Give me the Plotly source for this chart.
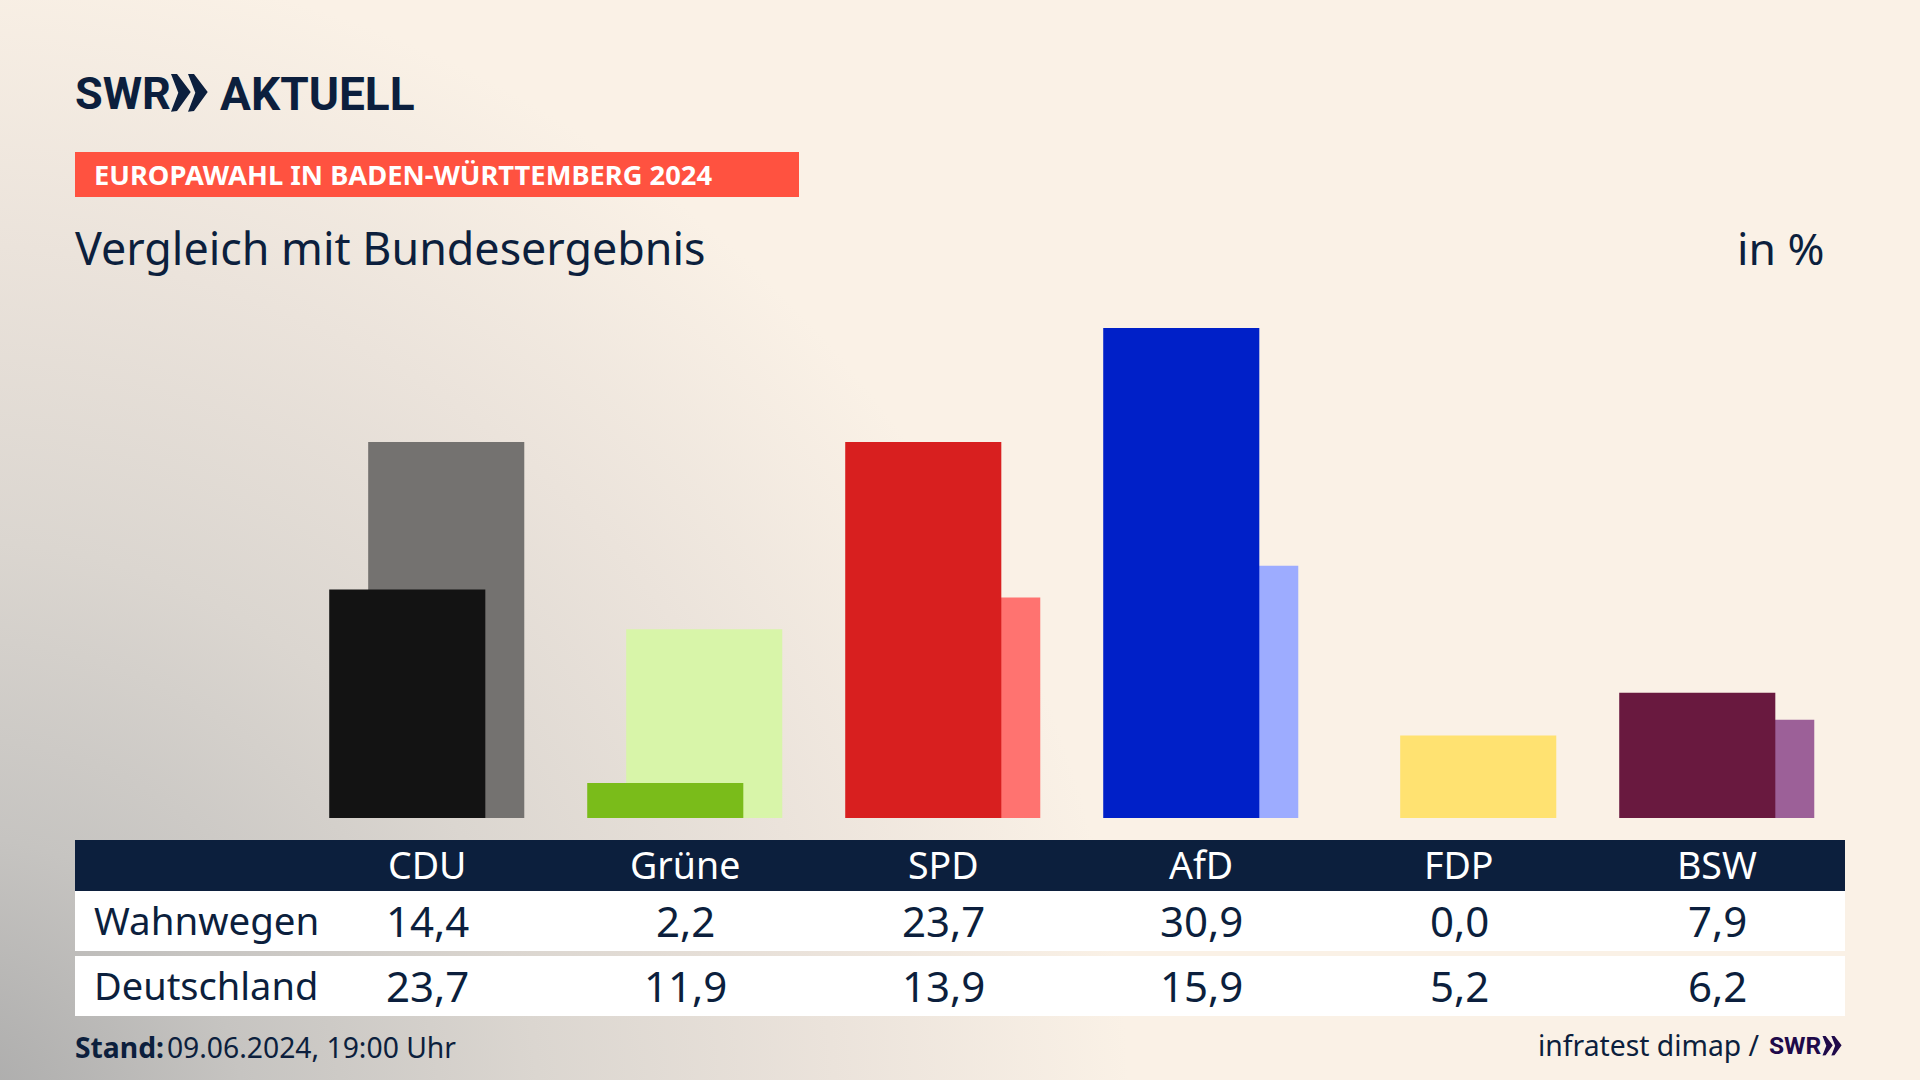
"""SWR Aktuell: Europawahl comparison, Wahnwegen vs Germany, as overlapping bars plus table."""
import base64

import plotly.graph_objects as go

W, H = 1920, 1080
NAVY = "#0c1f3d"
FONT = "Noto Sans"
LOGO_FONT = "Roboto"
LOGO_DARK = "#1f0a4a"

parties = ["CDU", "Grüne", "SPD", "AfD", "FDP", "BSW"]
wahnwegen = [14.4, 2.2, 23.7, 30.9, 0.0, 7.9]
deutschland = [23.7, 11.9, 13.9, 15.9, 5.2, 6.2]
wahnwegen_labels = ["14,4", "2,2", "23,7", "30,9", "0,0", "7,9"]
deutschland_labels = ["23,7", "11,9", "13,9", "15,9", "5,2", "6,2"]
colors_dark = ["#131313", "#7abc1a", "#d81f1f", "#0020c8", "#ffe271", "#69193f"]
colors_light = ["#747270", "#d8f5a9", "#ff7370", "#9dacff", "#ffe271", "#9c6098"]


def px(x):
    return x / W


def py(y):
    return 1 - y / H


def band(x0, x1, y0, y1, color):
    return dict(type="rect", xref="paper", yref="paper", x0=px(x0), x1=px(x1),
                y0=py(y1), y1=py(y0), fillcolor=color, line_width=0, layer="below")


def chevron(points, color):
    path = "M " + " L ".join(f"{px(x):.5f},{py(y):.5f}" for x, y in points) + " Z"
    return dict(type="path", xref="paper", yref="paper", path=path, fillcolor=color, line_width=0)


def logo_arrows(x, y, scale, color):
    # the two arrows of the SWR logo, measured at the size of the big logo
    one = [(0, 0), (6, 0), (19.7, 18), (6, 37), (0, 37.7), (7.3, 18.7)]
    return [
        chevron([(x + a * scale, y + b * scale) for a, b in one], color),
        chevron([(x + (a + 17) * scale, y + b * scale) for a, b in one], color),
    ]


def label(text, x, y, size, color=NAVY, anchor="left", font=FONT, xref="paper"):
    fig.add_annotation(
        text=text, xref=xref, yref="paper", x=px(x) if xref == "paper" else x, y=py(y),
        showarrow=False, xanchor=anchor, yanchor="middle", align=anchor,
        font=dict(family=font, size=size, color=color), borderpad=0, borderwidth=0,
    )


# soft grey glow from the bottom left corner
background_svg = f"""<svg xmlns="http://www.w3.org/2000/svg" width="{W}" height="{H}">
<defs><radialGradient id="g" gradientUnits="userSpaceOnUse" cx="-50" cy="1130" r="1180">
<stop offset="0" stop-color="#a8a8a8"/>
<stop offset="0.25" stop-color="#c6c4c1"/>
<stop offset="0.5" stop-color="#dbd6d0"/>
<stop offset="0.75" stop-color="#ebe3db"/>
<stop offset="1" stop-color="#faf1e6"/>
</radialGradient></defs>
<rect width="{W}" height="{H}" fill="url(#g)"/></svg>"""
background = "data:image/svg+xml;base64," + base64.b64encode(background_svg.encode()).decode()

fig = go.Figure()

# Germany goes first so the local bar sits on top
fig.add_trace(go.Bar(x=parties, y=deutschland, name="Deutschland", width=0.605, offset=-0.228,
                     marker=dict(color=colors_light, line_width=0)))
fig.add_trace(go.Bar(x=parties, y=wahnwegen, name="Wahnwegen", width=0.605, offset=-0.379,
                     marker=dict(color=colors_dark, line_width=0)))

fig.update_layout(
    width=W, height=H, margin=dict(l=0, r=0, t=0, b=0),
    barmode="overlay", showlegend=False,
    paper_bgcolor="#faf1e6", plot_bgcolor="rgba(0,0,0,0)",
    images=[dict(source=background, xref="paper", yref="paper", x=0, y=1, sizex=1, sizey=1,
                 sizing="stretch", layer="below", xanchor="left", yanchor="top")],
    shapes=[
        band(75, 799, 152, 197, "#ff5240"),
        band(75, 1845, 840, 891, NAVY),
        band(75, 1845, 891, 951, "#ffffff"),
        band(75, 1845, 956, 1016, "#ffffff"),
        *logo_arrows(171, 74, 1.0, NAVY),
        *logo_arrows(1822.5, 1036, 0.52, LOGO_DARK),
    ],
    xaxis=dict(domain=[px(298), px(1846)], range=[-0.5, 5.5], type="category",
               categoryorder="array", categoryarray=parties,
               visible=False, fixedrange=True),
    yaxis=dict(domain=[py(818), py(247)], range=[0, 36], visible=False, fixedrange=True),
)

label("<b>SWR</b>", 75, 94, 45, font=LOGO_FONT)
label("<b>AKTUELL</b>", 220, 94, 46, font=LOGO_FONT)
label("<b>EUROPAWAHL IN BADEN-WÜRTTEMBERG 2024</b>", 94, 175, 27.3, color="#ffffff")
label("Vergleich mit Bundesergebnis", 75, 247.5, 44.8)
label("in %", 1825, 247.5, 44.5, anchor="right")

for party, wert_w, wert_d in zip(parties, wahnwegen_labels, deutschland_labels):
    label(party, party, 864, 37.5, color="#ffffff", anchor="center", xref="x")
    label(wert_w, party, 920, 42, anchor="center", xref="x")
    label(wert_d, party, 985, 42, anchor="center", xref="x")
label("Wahnwegen", 94, 920, 38.5)
label("Deutschland", 94, 985, 38)

label("<b>Stand:</b>\u200a09.06.2024, 19:00 Uhr", 75, 1047, 28.3)
label("infratest dimap /", 1760, 1045, 28.3, anchor="right")
label("<b>SWR</b>", 1769, 1045, 24.5, color=LOGO_DARK, font=LOGO_FONT)

fig.write_html("out.html", config={"displayModeBar": False},
               post_script="document.body.style.margin='0';")
